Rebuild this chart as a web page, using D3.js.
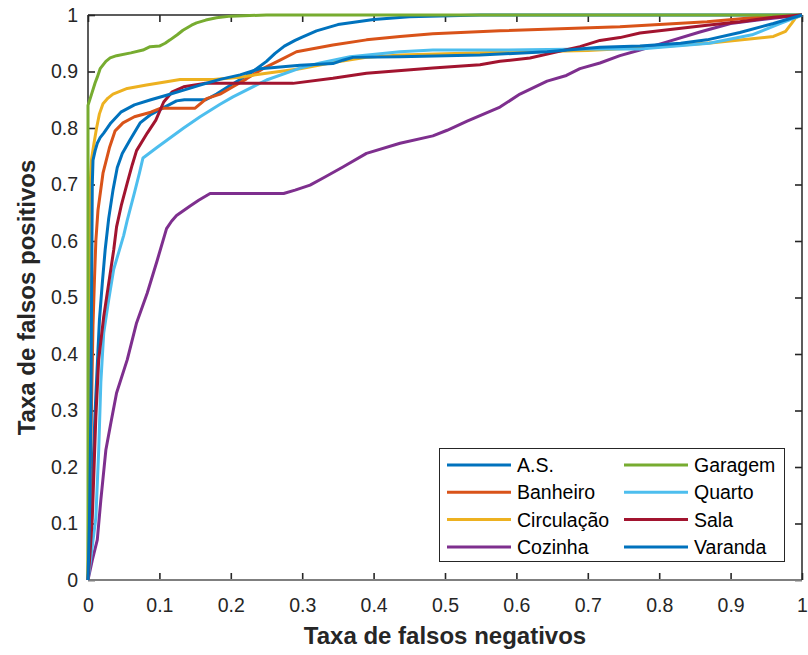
<!DOCTYPE html>
<html>
<head>
<meta charset="utf-8">
<script src="https://cdn.jsdelivr.net/npm/d3@7"></script>
<style>
  html, body { margin: 0; padding: 0; background: #fff; }
  svg { display: block; font-family: "Liberation Sans", Arial, Helvetica, sans-serif; }
</style>
</head>
<body>
<svg id="chart" width="808" height="655"></svg>
<script>
// ROC curves per room class: [false-negative rate axis, false-positive rate axis]
const asCurve = [[0,0],[0.004,0.1],[0.007,0.2],[0.01,0.3],[0.013,0.38],[0.016,0.46],[0.02,0.525],[0.024,0.584],[0.029,0.64],[0.035,0.69],[0.041,0.73],[0.048,0.755],[0.059,0.779],[0.073,0.809],[0.087,0.823],[0.1,0.832],[0.112,0.84],[0.124,0.848],[0.135,0.85],[0.165,0.85],[0.18,0.86],[0.2,0.876],[0.215,0.887],[0.231,0.9],[0.25,0.918],[0.262,0.932],[0.275,0.945],[0.29,0.955],[0.3,0.961],[0.32,0.972],[0.35,0.983],[0.4,0.992],[0.45,0.997],[0.55,1],[1,1]];
const banheiro = [[0,0],[0.002,0.1],[0.004,0.25],[0.007,0.45],[0.009,0.53],[0.011,0.6],[0.014,0.655],[0.021,0.72],[0.03,0.765],[0.038,0.795],[0.049,0.809],[0.065,0.82],[0.088,0.828],[0.102,0.835],[0.15,0.835],[0.166,0.852],[0.185,0.86],[0.203,0.873],[0.222,0.887],[0.245,0.905],[0.269,0.92],[0.292,0.935],[0.343,0.947],[0.39,0.956],[0.437,0.962],[0.483,0.967],[0.577,0.972],[0.745,0.979],[0.867,0.988],[0.93,0.995],[1,1]];
const circulacao = [[0,0],[0.001,0.2],[0.002,0.5],[0.003,0.7],[0.005,0.745],[0.008,0.77],[0.012,0.8],[0.016,0.825],[0.021,0.843],[0.028,0.853],[0.035,0.86],[0.055,0.87],[0.082,0.876],[0.11,0.882],[0.129,0.886],[0.176,0.886],[0.213,0.89],[0.25,0.897],[0.297,0.905],[0.343,0.916],[0.39,0.925],[0.437,0.929],[0.577,0.934],[0.7,0.937],[0.8,0.944],[0.875,0.951],[0.93,0.958],[0.96,0.962],[0.977,0.971],[0.986,0.986],[0.991,0.995],[1,1]];
const cozinha = [[0,0],[0.006,0.035],[0.013,0.071],[0.018,0.142],[0.025,0.23],[0.032,0.278],[0.04,0.331],[0.055,0.39],[0.068,0.455],[0.083,0.508],[0.097,0.566],[0.11,0.622],[0.117,0.635],[0.124,0.645],[0.143,0.662],[0.155,0.672],[0.171,0.684],[0.274,0.684],[0.29,0.69],[0.311,0.699],[0.33,0.712],[0.357,0.731],[0.39,0.755],[0.437,0.773],[0.483,0.786],[0.503,0.796],[0.531,0.812],[0.577,0.837],[0.605,0.86],[0.643,0.883],[0.67,0.893],[0.689,0.905],[0.717,0.915],[0.745,0.928],[0.773,0.938],[0.81,0.952],[0.857,0.97],[0.9,0.985],[0.95,0.993],[1,1]];
const garagem = [[0,0],[0,0.84],[0.005,0.86],[0.01,0.88],[0.013,0.89],[0.017,0.905],[0.025,0.918],[0.031,0.924],[0.04,0.928],[0.06,0.933],[0.077,0.938],[0.087,0.944],[0.1,0.945],[0.108,0.95],[0.115,0.956],[0.125,0.965],[0.133,0.973],[0.145,0.982],[0.152,0.986],[0.165,0.991],[0.18,0.995],[0.2,0.998],[0.25,1],[1,1]];
const quarto = [[0,0],[0.005,0.05],[0.011,0.11],[0.015,0.23],[0.018,0.35],[0.022,0.437],[0.029,0.496],[0.036,0.55],[0.043,0.58],[0.05,0.61],[0.055,0.637],[0.065,0.685],[0.072,0.72],[0.077,0.747],[0.097,0.766],[0.134,0.8],[0.157,0.82],[0.185,0.842],[0.203,0.855],[0.25,0.885],[0.297,0.906],[0.325,0.915],[0.367,0.926],[0.437,0.935],[0.483,0.938],[0.577,0.938],[0.7,0.94],[0.773,0.94],[0.87,0.95],[0.93,0.965],[0.97,0.985],[1,1]];
const sala = [[0,0],[0.003,0.05],[0.006,0.11],[0.011,0.289],[0.015,0.39],[0.022,0.466],[0.029,0.525],[0.036,0.584],[0.04,0.625],[0.047,0.665],[0.055,0.703],[0.062,0.735],[0.068,0.76],[0.083,0.791],[0.095,0.814],[0.106,0.846],[0.118,0.864],[0.134,0.873],[0.163,0.879],[0.287,0.879],[0.343,0.888],[0.39,0.897],[0.483,0.906],[0.549,0.912],[0.577,0.918],[0.619,0.924],[0.689,0.944],[0.717,0.955],[0.745,0.96],[0.773,0.968],[0.867,0.982],[0.913,0.988],[0.96,0.996],[1,1]];
const varanda = [[0,0],[0.002,0.1],[0.004,0.3],[0.005,0.5],[0.006,0.7],[0.007,0.743],[0.01,0.76],[0.013,0.773],[0.017,0.783],[0.022,0.791],[0.032,0.809],[0.046,0.828],[0.065,0.841],[0.088,0.85],[0.11,0.858],[0.134,0.867],[0.157,0.876],[0.185,0.886],[0.213,0.894],[0.241,0.905],[0.297,0.911],[0.343,0.914],[0.357,0.92],[0.371,0.925],[0.437,0.926],[0.549,0.929],[0.643,0.935],[0.717,0.943],[0.773,0.945],[0.83,0.95],[0.867,0.956],[0.913,0.969],[0.96,0.985],[1,1]];

const seriesNames = ["A.S.", "Banheiro", "Circulação", "Cozinha", "Garagem", "Quarto", "Sala", "Varanda"];
const seriesData = [asCurve, banheiro, circulacao, cozinha, garagem, quarto, sala, varanda];
const seriesColors = ["#0072BD", "#D95319", "#EDB120", "#7E2F8E", "#77AC30", "#4DBEEE", "#A2142F", "#0072BD"];
const tickValues = [0, 0.1, 0.2, 0.3, 0.4, 0.5, 0.6, 0.7, 0.8, 0.9, 1];
const xTitle = "Taxa de falsos negativos";
const yTitle = "Taxa de falsos positivos";

const svg = d3.select("#chart");
const plotLeft = 88, plotRight = 802, plotTop = 15, plotBottom = 580;
const x = d3.scaleLinear().domain([0, 1]).range([plotLeft, plotRight]);
const y = d3.scaleLinear().domain([0, 1]).range([plotBottom, plotTop]);
const axisColor = "#262626";
const fmt = d => d === 0 ? "0" : d === 1 ? "1" : d3.format(".1f")(d);

// bottom and left axes with inward ticks
const gx = svg.append("g").attr("transform", `translate(0,${plotBottom})`)
  .call(d3.axisBottom(x).tickValues(tickValues).tickFormat(fmt).tickSizeInner(-7).tickSizeOuter(0).tickPadding(18));
const gy = svg.append("g").attr("transform", `translate(${plotLeft},0)`)
  .call(d3.axisLeft(y).tickValues(tickValues).tickFormat(fmt).tickSizeInner(-7).tickSizeOuter(0).tickPadding(10));
// mirrored ticks on top and right
const gxt = svg.append("g").attr("transform", `translate(0,${plotTop})`)
  .call(d3.axisTop(x).tickValues(tickValues).tickFormat("").tickSizeInner(-7).tickSizeOuter(0));
const gyr = svg.append("g").attr("transform", `translate(${plotRight},0)`)
  .call(d3.axisRight(y).tickValues(tickValues).tickFormat("").tickSizeInner(-7).tickSizeOuter(0));

[gx, gy, gxt, gyr].forEach(g => {
  g.select(".domain").remove();
  g.selectAll(".tick line").attr("stroke", axisColor).attr("stroke-width", 1.6);
  g.selectAll(".tick text").attr("fill", axisColor).attr("font-size", 19.5)
    .attr("font-family", "'Liberation Sans', Arial, sans-serif");
});

// axes box
svg.append("line").attr("x1", plotLeft).attr("x2", plotRight).attr("y1", plotBottom).attr("y2", plotBottom)
  .attr("stroke", "#7f7f7f").attr("stroke-width", 2);
svg.append("line").attr("x1", plotLeft).attr("x2", plotRight).attr("y1", plotTop).attr("y2", plotTop)
  .attr("stroke", axisColor).attr("stroke-width", 1.5);
svg.append("line").attr("x1", plotLeft).attr("x2", plotLeft).attr("y1", plotTop).attr("y2", plotBottom)
  .attr("stroke", axisColor).attr("stroke-width", 1.5);
svg.append("line").attr("x1", plotRight).attr("x2", plotRight).attr("y1", plotTop).attr("y2", plotBottom)
  .attr("stroke", axisColor).attr("stroke-width", 1.5);

// curves
const line = d3.line().x(d => x(d[0])).y(d => y(d[1]));
seriesData.forEach((data, i) => {
  svg.append("path").datum(data)
    .attr("d", line)
    .attr("fill", "none")
    .attr("stroke", seriesColors[i])
    .attr("stroke-width", 3)
    .attr("stroke-linejoin", "round");
});

// axis titles
svg.append("text").attr("x", (plotLeft + plotRight) / 2).attr("y", 644)
  .attr("text-anchor", "middle").attr("font-weight", "bold").attr("font-size", 24)
  .attr("fill", axisColor).text(xTitle);
svg.append("text").attr("transform", `translate(35,${(plotTop + plotBottom) / 2}) rotate(-90)`)
  .attr("text-anchor", "middle").attr("font-weight", "bold").attr("font-size", 24)
  .attr("fill", axisColor).text(yTitle);

// legend
const legend = svg.append("g");
legend.append("rect").attr("x", 439.5).attr("y", 448.5).attr("width", 345).attr("height", 113)
  .attr("fill", "#fff").attr("stroke", axisColor).attr("stroke-width", 1);
const colX = [447, 624], rowY = [465, 492.3, 519.6, 547];
seriesNames.forEach((name, i) => {
  const c = Math.floor(i / 4), r = i % 4;
  legend.append("line").attr("x1", colX[c]).attr("x2", colX[c] + 64)
    .attr("y1", rowY[r]).attr("y2", rowY[r])
    .attr("stroke", seriesColors[i]).attr("stroke-width", 3);
  legend.append("text").attr("x", colX[c] + 70).attr("y", rowY[r] + 7)
    .attr("font-size", 19.5).attr("fill", "#000").text(name);
});
</script>
</body>
</html>
